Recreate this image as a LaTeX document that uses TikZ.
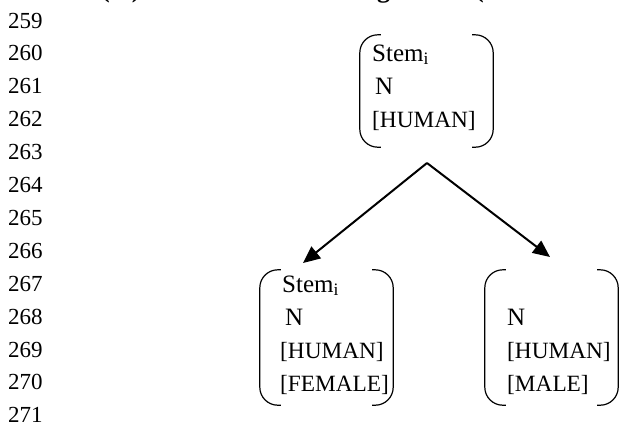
\documentclass[tikz,border=0pt]{standalone}
\usepackage{fontspec}
\setmainfont{Liberation Serif}
\usetikzlibrary{arrows.meta}
\tikzset{
  txt/.style={anchor=base west, inner sep=0pt, font=\fontsize{25}{28}\selectfont},
  caps/.style={anchor=base west, inner sep=0pt, font=\fontsize{23.3}{26}\selectfont},
  lineno/.style={anchor=base west, inner sep=0pt, font=\fontsize{23}{26}\selectfont},
  headfrag/.style={anchor=base west, inner sep=0pt, font=\fontsize{26}{30}\selectfont\bfseries},
  featbox/.style={draw=none, inner sep=0pt, minimum width=133pt},
  paren/.style={line width=1.2pt, rounded corners=18pt},
  branch/.style={line width=2pt, -{Triangle[length=17pt,width=15pt]}},
}
\begin{document}
\begin{tikzpicture}[x=1pt,y=-1pt]
\useasboundingbox (0,0) rectangle (621,426);

% fragments of the heading line above, cut by the page edge
\begin{scope}
\clip (0,0) rectangle (621,426);
\node[headfrag] (hA) at (101,-3) {(\hspace{22pt})};
\node[headfrag] (hB) at (377,-3) {g};
\node[headfrag] (hC) at (475,-3) {(};
\end{scope}

% line numbers
\foreach \n [count=\k from 0] in {259,...,271}
  \node[lineno] (ln\n) at (8,{28+32.9*\k}) {\n};

% feature matrices
\node[featbox, minimum height=112pt] (top) at (426.5,91) {};
\node[featbox, minimum height=135pt] (left) at (326.5,337.5) {};
\node[featbox, minimum height=135pt] (right) at (551.5,337.5) {};

\foreach \b in {top,left,right}{
  \draw[paren] ([xshift=21pt]\b.north west) -- (\b.north west) -- (\b.south west) -- ([xshift=21pt]\b.south west);
  \draw[paren] ([xshift=-21pt]\b.north east) -- (\b.north east) -- (\b.south east) -- ([xshift=-21pt]\b.south east);
}

% top matrix contents
\node[txt]  (t1) at (372,61)  {Stem\textsubscript{i}};
\node[txt]  (t2) at (375,94)  {N};
\node[caps] (t3) at (372,127) {[HUMAN]};

% left daughter
\node[txt]  (l1) at (282,292) {Stem\textsubscript{i}};
\node[txt]  (l2) at (285,325) {N};
\node[caps] (l3) at (280,358) {[HUMAN]};
\node[caps] (l4) at (280,391) {[FEMALE]};

% right daughter
\node[txt]  (r2) at (507,325) {N};
\node[caps] (r3) at (507,358) {[HUMAN]};
\node[caps] (r4) at (507,391) {[MALE]};

% branching arrows
\coordinate (apex) at (427,163);
\coordinate (tipL) at (303,263);
\coordinate (tipR) at (550,257);
\draw[branch] (apex) -- (tipL);
\draw[branch] (apex) -- (tipR);
\end{tikzpicture}
\end{document}
